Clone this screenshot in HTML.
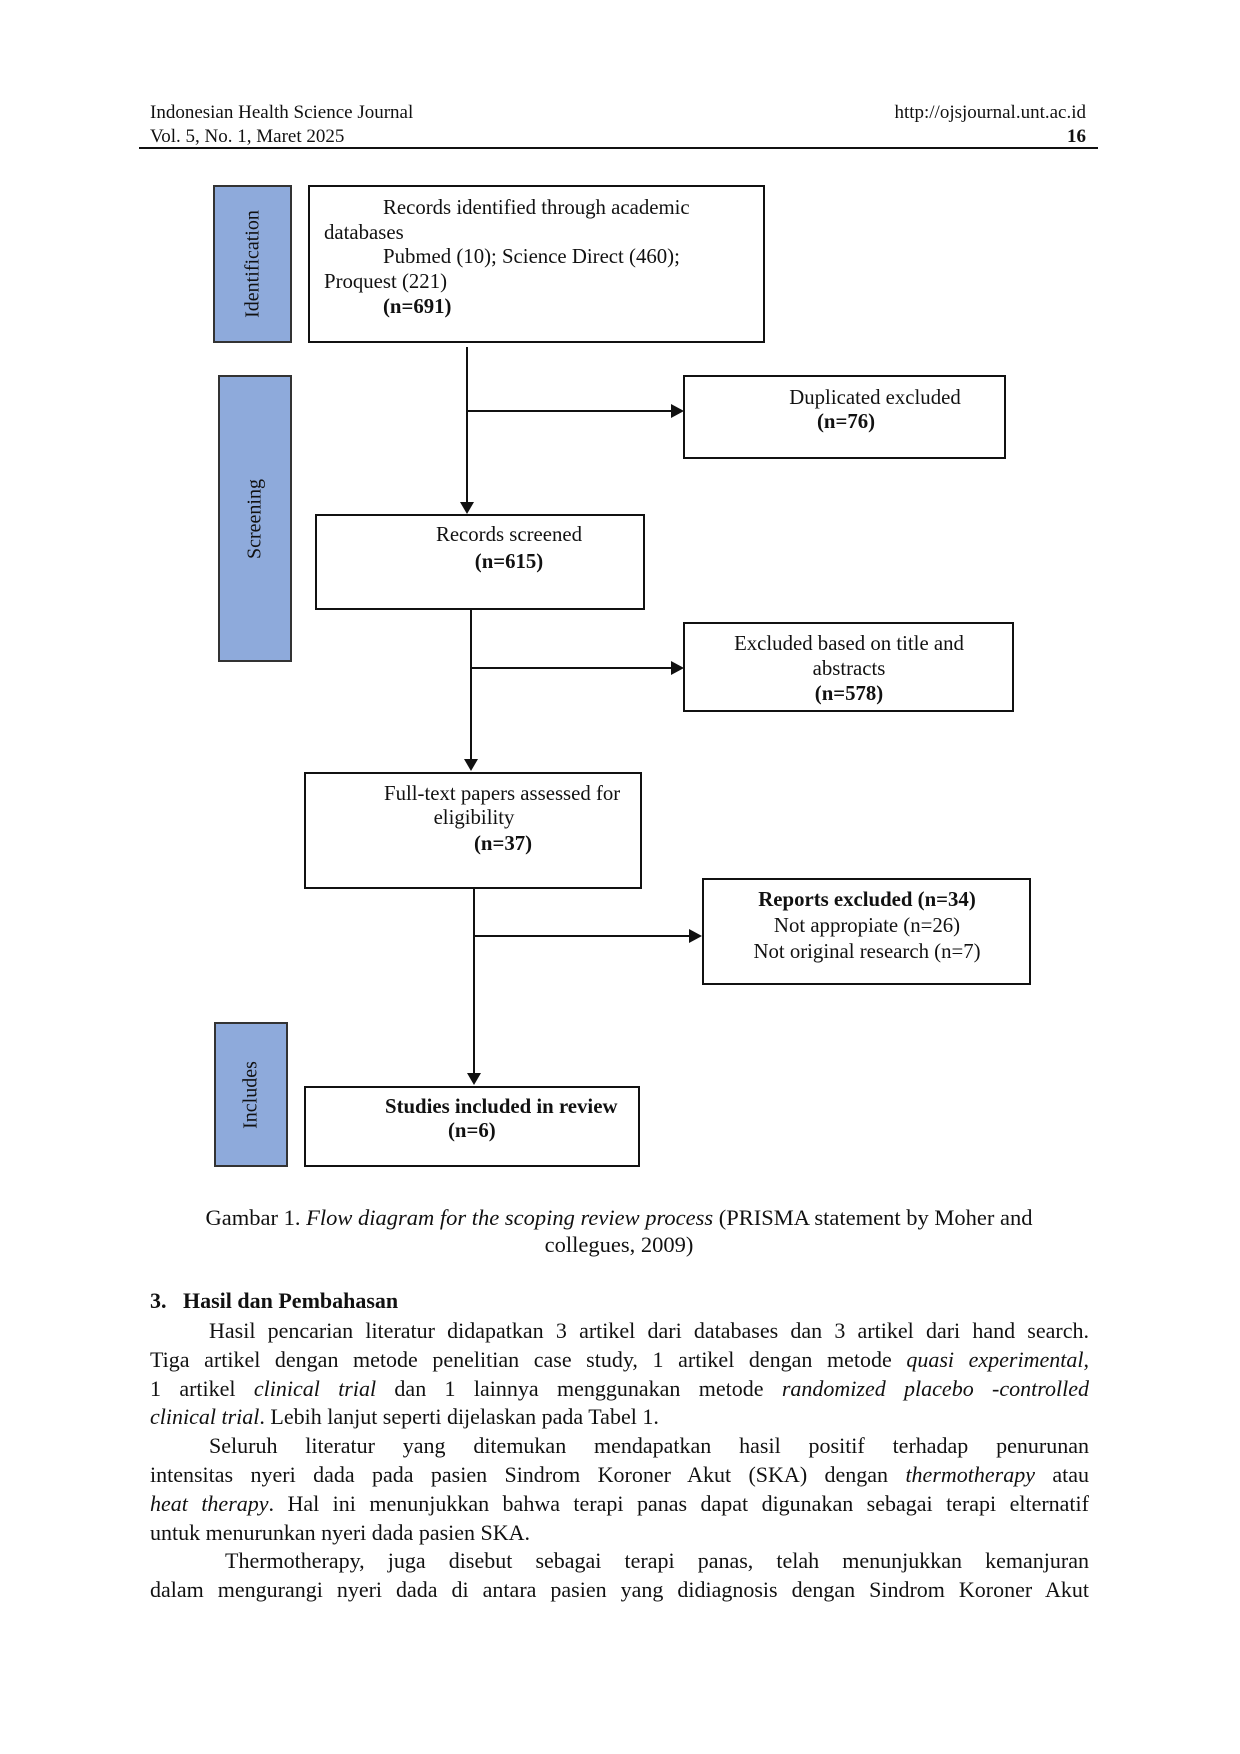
<!DOCTYPE html>
<html><head><meta charset="utf-8"><style>
body{margin:0;background:#fff}
#p{position:relative;width:1240px;height:1754px;overflow:hidden;font-family:"Liberation Serif",serif;color:#111}
.a{position:absolute;white-space:nowrap}
.box{position:absolute;border:2px solid #111;box-sizing:border-box}
.bar{position:absolute;border:2px solid #333;background:#8eaadb;box-sizing:border-box}
.bar span{position:absolute;left:50%;top:50%;transform:translate(-50%,-50%) rotate(-90deg);font-size:20px;white-space:nowrap}
.t{position:absolute;font-size:20.8px;line-height:25px;white-space:nowrap}
.c{text-align:center}
.hl{position:absolute;background:#111}
.par{position:absolute;left:150px;width:939px;font-size:22px;line-height:28.8px}
.par div{text-align:justify;text-align-last:justify;white-space:nowrap;height:28.8px}
.par div.l{text-align-last:left}
</style></head><body><div id="p">
<div class="a" style="left:150px;top:101px;font-size:19px;line-height:24px">Indonesian Health Science Journal<br>Vol. 5, No. 1, Maret 2025</div>
<div class="a" style="right:154px;top:101px;font-size:19px;line-height:24px;text-align:right">http://ojsjournal.unt.ac.id<br><b>16</b></div>
<div class="hl" style="left:139px;top:147px;width:959px;height:1.5px"></div>

<div class="bar" style="left:213px;top:185px;width:79px;height:158px"><span>Identification</span></div>
<div class="bar" style="left:218px;top:375px;width:74px;height:287px"><span>Screening</span></div>
<div class="bar" style="left:214px;top:1022px;width:74px;height:145px"><span>Includes</span></div>

<div class="box" style="left:308px;top:185px;width:457px;height:158px"></div>
<div class="t" style="left:383px;top:195px">Records identified through academic</div>
<div class="t" style="left:324px;top:220px">databases</div>
<div class="t" style="left:383px;top:244px">Pubmed (10); Science Direct (460);</div>
<div class="t" style="left:324px;top:269px">Proquest (221)</div>
<div class="t" style="left:383px;top:294px"><b>(n=691)</b></div>

<div class="hl" style="left:466px;top:347px;width:1.5px;height:158px"></div>
<div class="a" style="left:460px;top:502px;border-left:7px solid transparent;border-right:7px solid transparent;border-top:12px solid #111"></div>
<div class="hl" style="left:467px;top:410px;width:205px;height:1.5px"></div>
<div class="a" style="left:671px;top:404px;border-top:7px solid transparent;border-bottom:7px solid transparent;border-left:13px solid #111"></div>

<div class="box" style="left:683px;top:375px;width:323px;height:84px"></div>
<div class="t c" style="left:775px;width:200px;top:385px">Duplicated excluded</div>
<div class="t" style="left:817px;top:409px"><b>(n=76)</b></div>

<div class="box" style="left:315px;top:514px;width:330px;height:96px"></div>
<div class="t c" style="left:409px;width:200px;top:522px">Records screened</div>
<div class="t c" style="left:409px;width:200px;top:549px"><b>(n=615)</b></div>

<div class="hl" style="left:470px;top:609px;width:1.5px;height:152px"></div>
<div class="a" style="left:464px;top:759px;border-left:7px solid transparent;border-right:7px solid transparent;border-top:12px solid #111"></div>
<div class="hl" style="left:471px;top:667px;width:201px;height:1.5px"></div>
<div class="a" style="left:671px;top:661px;border-top:7px solid transparent;border-bottom:7px solid transparent;border-left:13px solid #111"></div>

<div class="box" style="left:683px;top:622px;width:331px;height:90px"></div>
<div class="t c" style="left:699px;width:300px;top:631px">Excluded based on title and</div>
<div class="t c" style="left:699px;width:300px;top:656px">abstracts</div>
<div class="t c" style="left:699px;width:300px;top:681px"><b>(n=578)</b></div>

<div class="box" style="left:304px;top:772px;width:338px;height:117px"></div>
<div class="t" style="left:384px;top:781px">Full-text papers assessed for</div>
<div class="t c" style="left:374px;width:200px;top:805px">eligibility</div>
<div class="t" style="left:474px;top:831px"><b>(n=37)</b></div>

<div class="hl" style="left:473px;top:889px;width:1.5px;height:186px"></div>
<div class="a" style="left:467px;top:1073px;border-left:7px solid transparent;border-right:7px solid transparent;border-top:12px solid #111"></div>
<div class="hl" style="left:474px;top:935px;width:217px;height:1.5px"></div>
<div class="a" style="left:689px;top:929px;border-top:7px solid transparent;border-bottom:7px solid transparent;border-left:13px solid #111"></div>

<div class="box" style="left:702px;top:878px;width:329px;height:107px"></div>
<div class="t c" style="left:717px;width:300px;top:887px"><b>Reports excluded (n=34)</b></div>
<div class="t c" style="left:717px;width:300px;top:913px">Not appropiate (n=26)</div>
<div class="t c" style="left:717px;width:300px;top:939px">Not original research (n=7)</div>

<div class="box" style="left:304px;top:1086px;width:336px;height:81px"></div>
<div class="t" style="left:385px;top:1094px"><b>Studies included in review</b></div>
<div class="t" style="left:448px;top:1118px"><b>(n=6)</b></div>

<div class="a" style="left:0;width:1238px;top:1204px;font-size:22.5px;line-height:27px;text-align:center">Gambar 1. <i>Flow diagram for the scoping review process</i> (PRISMA statement by Moher and<br>collegues, 2009)</div>

<div class="a" style="left:150px;top:1288px;font-size:22px"><b>3.&nbsp;&nbsp;&nbsp;Hasil dan Pembahasan</b></div>
<div class="par" style="top:1317px">
<div style="padding-left:59px">Hasil pencarian literatur didapatkan 3 artikel dari databases dan 3 artikel dari hand search.</div>
<div>Tiga artikel dengan metode penelitian case study, 1 artikel dengan metode <i>quasi experimental</i>,</div>
<div>1 artikel <i>clinical trial</i> dan 1 lainnya menggunakan metode <i>randomized placebo -controlled</i></div>
<div class="l"><i>clinical trial</i>. Lebih lanjut seperti dijelaskan pada Tabel 1.</div>
<div style="padding-left:59px">Seluruh literatur yang ditemukan mendapatkan hasil positif terhadap penurunan</div>
<div>intensitas nyeri dada pada pasien Sindrom Koroner Akut (SKA) dengan <i>thermotherapy</i> atau</div>
<div><i>heat therapy</i>. Hal ini menunjukkan bahwa terapi panas dapat digunakan sebagai terapi elternatif</div>
<div class="l">untuk menurunkan nyeri dada pasien SKA.</div>
<div style="padding-left:75px">Thermotherapy, juga disebut sebagai terapi panas, telah menunjukkan kemanjuran</div>
<div>dalam mengurangi nyeri dada di antara pasien yang didiagnosis dengan Sindrom Koroner Akut</div>
</div>
</div></body></html>
